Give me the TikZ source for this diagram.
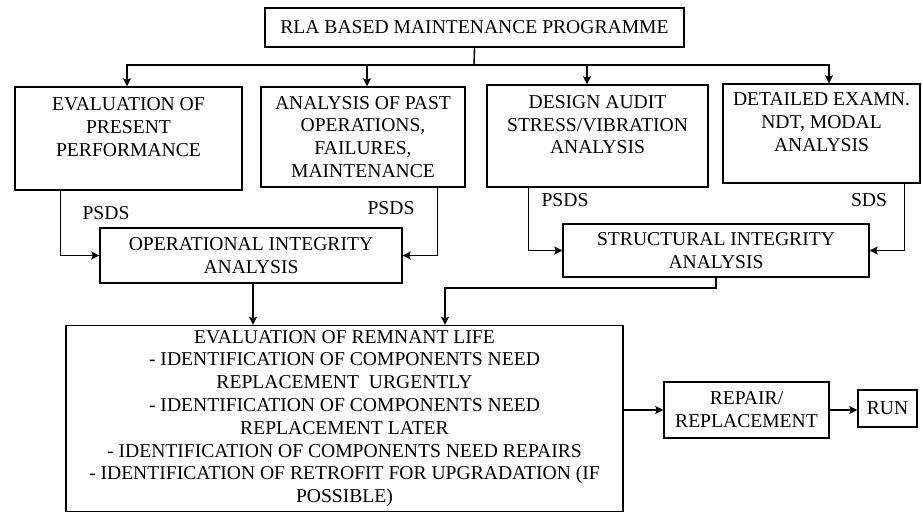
\documentclass[tikz,border=0pt]{standalone}
\usepackage{fontspec}
\setmainfont{Liberation Serif}
\usepackage{tikz}
\usetikzlibrary{arrows.meta}

\begin{document}
\begin{tikzpicture}[x=1pt,y=-1pt,>={Stealth[length=8pt,width=8pt,inset=1.5pt]},line width=1.4pt,
  blk/.style={draw,rectangle,align=center,inner sep=2pt,font=\fontsize{19.6}{22.8}\selectfont},
  lbl/.style={font=\fontsize{19.6}{22.8}\selectfont}]
\useasboundingbox (0,0) rectangle (923,513);
\node[blk,minimum width=419pt,minimum height=39pt] (prog) at (474.5,27.5) {RLA BASED MAINTENANCE PROGRAMME};
\node[blk,minimum width=227pt,minimum height=103pt] (evalp) at (128.5,138.5) {EVALUATION OF\\PRESENT\\PERFORMANCE\\\mbox{}};
\node[blk,minimum width=204pt,minimum height=100pt] (anpast) at (363,137) {ANALYSIS OF PAST\\OPERATIONS,\\FAILURES,\\MAINTENANCE};
\node[blk,minimum width=221pt,minimum height=102pt] (design) at (597.5,136) {DESIGN AUDIT\\STRESS/VIBRATION\\ANALYSIS\\\mbox{}};
\node[blk,minimum width=197pt,minimum height=99pt] (detail) at (821.5,133.5) {DETAILED EXAMN.\\NDT, MODAL\\ANALYSIS\\\mbox{}};
\node[blk,minimum width=302pt,minimum height=55pt] (opint) at (251,255.5) {OPERATIONAL INTEGRITY\\ANALYSIS};
\node[blk,minimum width=306pt,minimum height=53pt] (strint) at (716,250.5) {STRUCTURAL INTEGRITY\\ANALYSIS};
\node[blk,minimum width=557pt,minimum height=186pt] (remlife) at (344.5,418.5) {EVALUATION OF REMNANT LIFE\\- IDENTIFICATION OF COMPONENTS NEED\\REPLACEMENT\ \ URGENTLY\\- IDENTIFICATION OF COMPONENTS NEED\\REPLACEMENT LATER\\- IDENTIFICATION OF COMPONENTS NEED REPAIRS\\- IDENTIFICATION OF RETROFIT FOR UPGRADATION (IF\\POSSIBLE)};
\node[blk,minimum width=165pt,minimum height=56pt] (repair) at (746.5,410) {REPAIR/\\REPLACEMENT};
\node[blk,minimum width=59pt,minimum height=37pt] (run) at (887.5,408.5) {RUN};
\node[lbl] (psds1) at (106,213) {PSDS};
\node[lbl] (psds2) at (391,208) {PSDS};
\node[lbl] (psds3) at (565,200) {PSDS};
\node[lbl] (sds) at (869,200) {SDS};
\coordinate (bus) at (474,65);
\coordinate (join) at (445,288);
% programme to the four studies
\draw (prog.south) -- (bus);
\draw[->] (bus) -| ([xshift=-1.5pt]evalp.north);
\draw[->] (bus) -| ([xshift=4pt]anpast.north);
\draw[->] (bus) -| ([xshift=-10.5pt]design.north);
\draw[->] (bus) -| ([xshift=7.5pt]detail.north);
% studies to integrity analyses
\draw[->] ([xshift=46pt]evalp.south west) |- (opint.west);
\draw[->] ([xshift=-28pt]anpast.south east) |- (opint.east);
\draw[->] ([xshift=42pt]design.south west) |- (strint.west);
\draw[->] ([xshift=-16pt]detail.south east) |- (strint.east);
% into remnant life
\draw[->] ([xshift=2pt]opint.south) -- ([xshift=2pt]opint.south |- remlife.north);
\draw[->] (strint.south) |- (join) -- (join |- remlife.north);
\draw[->] (repair.west -| remlife.east) -- (repair.west);
\draw[->] (repair.east) -- (repair.east -| run.west);
\end{tikzpicture}
\end{document}
